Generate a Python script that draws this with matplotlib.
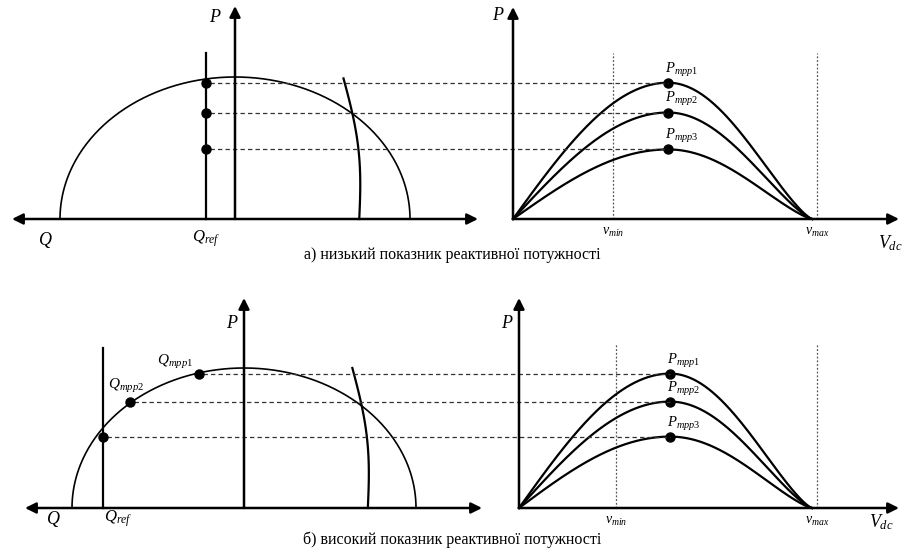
import numpy as np
import matplotlib
matplotlib.use("Agg")
import matplotlib.pyplot as plt

plt.rcParams['font.family'] = ['Liberation Serif', 'DejaVu Serif']
plt.rcParams['mathtext.fontset'] = 'custom'
plt.rcParams['mathtext.rm'] = 'Liberation Serif'
plt.rcParams['mathtext.it'] = 'Liberation Serif:italic'

# ---------------- data (per-unit values) ----------------
# panel a (low reactive power)
a_p_mpp = [0.96, 0.75, 0.49]          # MPP powers, fraction of apparent power S
a_q_ref = -0.165                      # Q_ref, fraction of S
a_v_min, a_v_mpp, a_v_end = 0.33, 0.51, 0.984   # PV curve voltages, fraction of v_max
a_limit_top = (0.62, 0.99)            # PV-limit curve (q, p) top point
a_limit_bot = 0.71                    # PV-limit curve q at p=0
a_pv_labels = ['$P_{mpp1}$', '$P_{mpp2}$', '$P_{mpp3}$']

# panel b (high reactive power)
b_p_mpp = [0.96, 0.76, 0.51]
b_q_mpp = [-0.26, -0.663]
b_q_ref = -0.82
b_v_min, b_v_mpp, b_v_end = 0.325, 0.507, 0.983
b_limit_top = (0.63, 1.0)
b_limit_bot = 0.72
b_q_labels = ['$Q_{mpp1}$', '$Q_{mpp2}$']
b_pv_labels = ['$P_{mpp1}$', '$P_{mpp2}$', '$P_{mpp3}$']

captions = ['а) низький показник реактивної потужності',
            'б) високий показник реактивної потужності']

# ---------------- layout (pixels) ----------------
W, H = 903, 548
fig = plt.figure(figsize=(W / 100, H / 100), dpi=100)
ax = fig.add_axes([0, 0, 1, 1])
ax.set_xlim(0, W)
ax.set_ylim(H, 0)
ax.axis('off')

rows = [
    dict(base=219, qc=235, qa=175, pb=142, q_left=12, q_right=478, p_tip=6,
         v0=513, vscale=304, v_right=899, vp_tip=7,
         p_mpp=a_p_mpp, q_ref=a_q_ref, vmin=a_v_min, vmpp=a_v_mpp, vend=a_v_end,
         lim_top=a_limit_top, lim_bot=a_limit_bot, qref_top=53, vline_top=53,
         caption=captions[0], cap_y=255, labels=a_pv_labels,
         Qlab=(45, 240), Qref_lab=(206, 239), Plab=(215, 17), Prlab=(498, 15),
         Vdc=(890, 243)),
    dict(base=508, qc=244, qa=172, pb=140, q_left=25, q_right=482, p_tip=298,
         v0=519, vscale=298, v_right=899, vp_tip=298,
         p_mpp=b_p_mpp, q_ref=b_q_ref, vmin=b_v_min, vmpp=b_v_mpp, vend=b_v_end,
         lim_top=b_limit_top, lim_bot=b_limit_bot, qref_top=348, vline_top=343,
         caption=captions[1], cap_y=540, labels=b_pv_labels,
         Qlab=(53, 519), Qref_lab=(118, 519), Plab=(232, 323), Prlab=(507, 323),
         Vdc=(881, 522)),
]

def arrow(x0, y0, x1, y1, style='-|>'):
    ax.annotate('', xy=(x1, y1), xytext=(x0, y0),
                arrowprops=dict(arrowstyle=style, lw=1.8, color='black',
                                mutation_scale=16, shrinkA=0, shrinkB=0))

for i, r in enumerate(rows):
    base, qc, qa, pb = r['base'], r['qc'], r['qa'], r['pb']
    X = lambda q: qc + q * qa
    Y = lambda p: base - p * pb
    XV = lambda v: r['v0'] + v * r['vscale']

    # Q axis (double arrow) and P axis
    arrow(r['q_right'], base, r['q_left'], base, style='<|-|>')
    arrow(qc, base, qc, r['p_tip'])

    # capability ellipse
    t = np.linspace(0, np.pi, 300)
    ax.plot(X(np.cos(t)), Y(np.sin(t)), color='black', lw=1.2)

    # PV limit curve (slightly bowed)
    qt, pt = r['lim_top']
    s = np.linspace(0, 1, 100)
    qq = qt + (r['lim_bot'] - qt) * s + 0.04 * np.sin(np.pi * s)
    ax.plot(X(qq), Y(pt * (1 - s)), color='black', lw=1.6)

    # Q_ref line
    ax.plot([X(r['q_ref'])] * 2, [base, r['qref_top']], color='black', lw=1.6)

    # right panel axes
    arrow(r['v0'], base, r['v_right'], base)
    arrow(r['v0'], base, r['v0'], r['vp_tip'])

    # v_min, v_max dotted verticals
    for v in (r['vmin'], 1.0):
        ax.plot([XV(v)] * 2, [base, r['vline_top']], color='#555555', lw=0.9,
                ls=(0, (1.5, 1.5)))

    # PV curves
    for k, pm in enumerate(r['p_mpp']):
        v = np.linspace(0, r['vend'], 400)
        up = v <= r['vmpp']
        sd = np.clip((v - r['vmpp']) / (r['vend'] - r['vmpp']), 0, 1)
        p = np.where(up, pm * np.sin(np.pi / 2 * v / r['vmpp']),
                     pm * np.cos(np.pi / 2 * sd) ** 1.3)
        ax.plot(XV(v), Y(p), color='black', lw=1.6)
        ax.plot(XV(r['vmpp']), Y(pm), 'o', color='black', ms=6.5)
        ax.text(XV(r['vmpp']) - 3, Y(pm) - 4, r['labels'][k], fontsize=10.5,
                ha='left', va='bottom')

    # dashed connectors and left dots
    if i == 0:
        qdots = [r['q_ref']] * 3
    else:
        qdots = b_q_mpp + [r['q_ref']]
    for k, pm in enumerate(r['p_mpp']):
        ax.plot([X(qdots[k]) + 4, XV(r['vmpp'])], [Y(pm)] * 2, color='#333333',
                lw=0.9, ls=(0, (3.5, 2.5)))
        ax.plot(X(qdots[k]), Y(pm), 'o', color='black', ms=6.5, zorder=5)

    if i == 1:
        ax.text(X(b_q_mpp[0]) - 42, Y(b_p_mpp[0]) - 3, b_q_labels[0], fontsize=11,
                ha='left', va='bottom')
        ax.text(X(b_q_mpp[1]) - 22, Y(b_p_mpp[1]) - 7, b_q_labels[1], fontsize=11,
                ha='left', va='bottom')

    # axis labels
    ax.text(*r['Qlab'], '$Q$', fontsize=13, ha='center', va='center')
    ax.text(*r['Qref_lab'], '$Q_{ref}$', fontsize=12, ha='center', va='center')
    ax.text(*r['Plab'], '$P$', fontsize=13, ha='center', va='center')
    ax.text(*r['Prlab'], '$P$', fontsize=13, ha='center', va='center')
    ax.text(*r['Vdc'], '$V_{dc}$', fontsize=13, ha='center', va='center')
    ax.text(XV(r['vmin']), base + 13, '$v_{min}$', fontsize=10, ha='center', va='center')
    ax.text(XV(1.0), base + 13, '$v_{max}$', fontsize=10, ha='center', va='center')

    ax.text(452, r['cap_y'], r['caption'], fontsize=11.5, ha='center', va='center')

fig.savefig('out.png', dpi=100)
